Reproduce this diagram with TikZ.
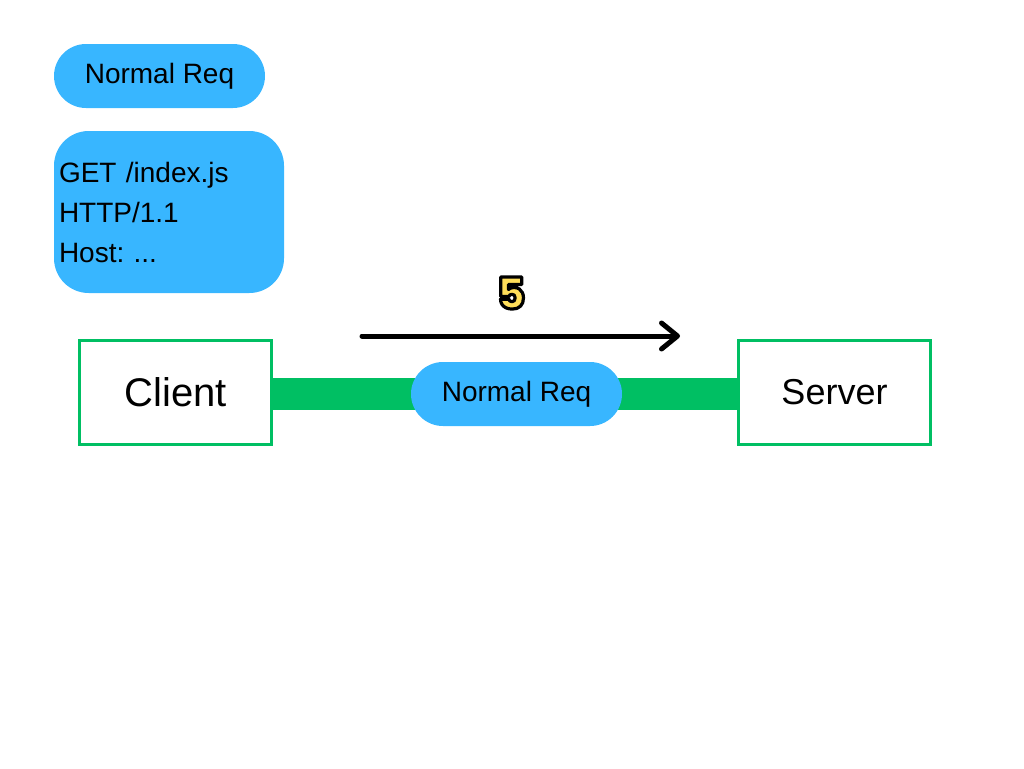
\documentclass[tikz,border=0pt]{standalone}
\usepackage{fontspec}
\setmainfont{Liberation Sans}
\newfontfamily\numfont{Poppins}[BoldFont={Poppins ExtraBold}]
\usetikzlibrary{arrows.meta,backgrounds}

% outlined digit: fill and stroke text render mode
\newcommand{\outlinedigit}[1]{{\color[RGB]{255,222,89}\special{pdf:literal direct 2 Tr 2.4 w 0 0 0 RG 1 j}#1\special{pdf:literal direct 0 Tr}}}

\tikzset{every picture/.style={line width=0.75pt}}
\tikzset{
  reqpill/.style={fill={rgb, 255:red, 56; green, 182; blue, 255 }, draw=none, rounded corners=24pt, minimum width=158.25pt, minimum height=48pt, inner sep=0pt, font=\fontsize{21}{25}\selectfont},
  hostbox/.style={draw={rgb, 255:red, 0; green, 191; blue, 99 }, line width=2.25pt, fill=white, minimum width=144pt, minimum height=77.5pt, inner sep=0pt},
}

\begin{document}
\frenchspacing
\begin{tikzpicture}[x=0.75pt,y=0.75pt,yscale=-1,xscale=1]
\useasboundingbox (0,0) rectangle (1024,768);

% Text Node
\node [reqpill] (toppill) at (159.5,76) {Normal Req};
% Text Node
\node [reqpill, rounded corners=26pt, minimum width=172.5pt, minimum height=121.5pt, text width=165pt, inner xsep=3.75pt, align=left, font=\fontsize{21}{30}\selectfont] (reqtext) at (169,212) {GET /index.js\\HTTP/1.1\\Host: ...};

% Text Node
\node [hostbox, font=\fontsize{30}{36}\selectfont] (client) at (175.5,392.5) {Client};
% Text Node
\node [hostbox, font=\fontsize{27}{32}\selectfont] (server) at (834.5,392.5) {Server};

% Text Node
\node [reqpill] (midpill) at (516.5,394) {Normal Req};
%Shape: Bar
\begin{scope}[on background layer]
\draw [line width=24pt, color={rgb, 255:red, 0; green, 191; blue, 99 }] (client.east |- midpill.center) -- (server.west |- midpill.center);
\end{scope}

%Shape: Arrow
\coordinate (arrstart) at (362,336);
\coordinate (arrend) at (680,336);
\draw [line width=3.75pt, line cap=round, line join=round, -{Straight Barb[length=12pt, width=19.5pt, line cap=round, line join=round]}] (arrstart) -- (arrend);

% Text Node
\node [inner sep=0pt, font=\numfont\bfseries\fontsize{33}{40}\selectfont] (stepnum) at (511,293) {\outlinedigit{5}};

\end{tikzpicture}
\end{document}
